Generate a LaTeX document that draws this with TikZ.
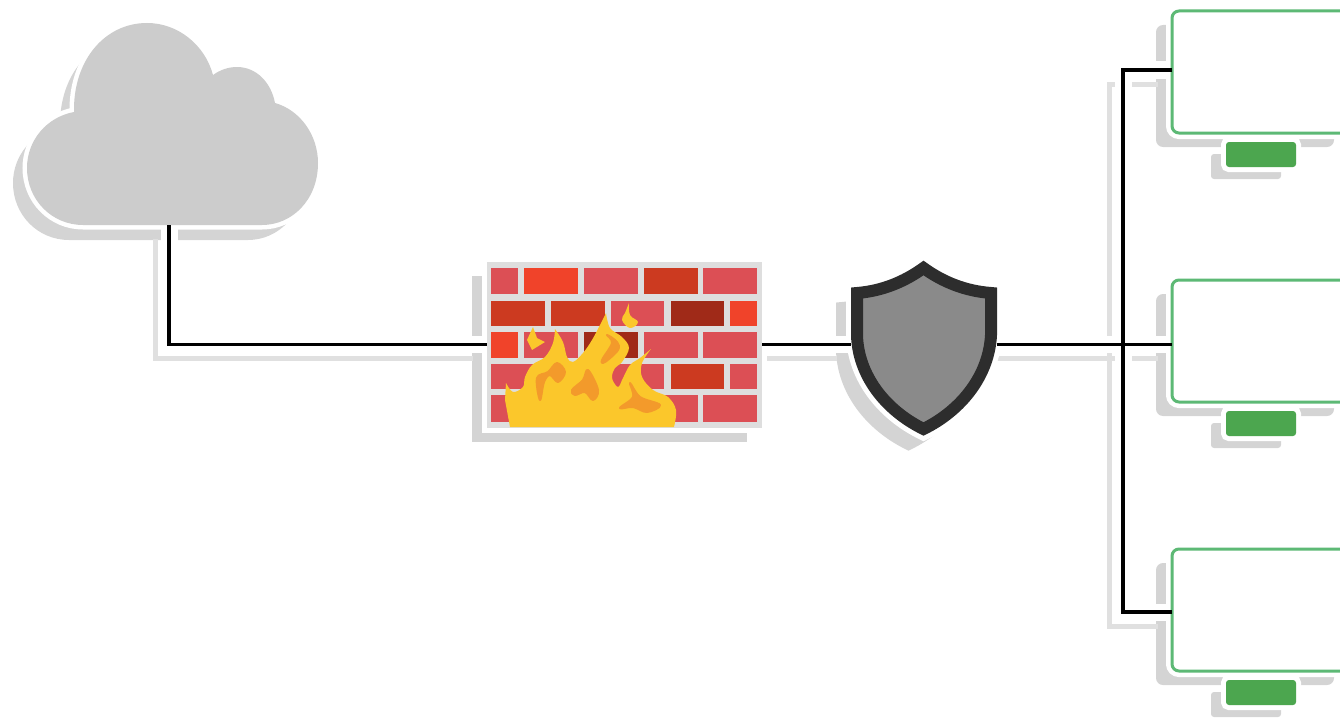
\documentclass[tikz,border=0pt]{standalone}
\usepackage{tikz}
\usetikzlibrary{backgrounds,calc,positioning}
\definecolor{CloudGray}{HTML}{CCCCCC}
\definecolor{Shade}{HTML}{D4D4D4}
\definecolor{LinkShade}{HTML}{E0E0E0}
\definecolor{WallGray}{HTML}{DEDEDE}
\definecolor{BrickLight}{HTML}{DC4F55}
\definecolor{BrickHot}{HTML}{F0432A}
\definecolor{BrickMid}{HTML}{CC3A20}
\definecolor{BrickDark}{HTML}{A02A18}
\definecolor{Flame}{HTML}{FBC72B}
\definecolor{FlameDeep}{HTML}{F39A2B}
\definecolor{ShieldFill}{HTML}{8A8A8A}
\definecolor{ShieldEdge}{HTML}{2D2D2D}
\definecolor{ScreenGreen}{HTML}{5DB975}
\definecolor{StandGreen}{HTML}{4CA64F}
\newcommand{\cloudpath}{(83,225) .. controls (52,225) and (27,200) .. (27,168)
  .. controls (27,140) and (47,117) .. (74,112)
  .. controls (73,60) and (105,23) .. (147,23)
  .. controls (178,23) and (205,45) .. (213,75)
  .. controls (220,70) and (228,67) .. (237,67)
  .. controls (256,67) and (271,82) .. (275,103)
  .. controls (300,110) and (318,135) .. (318,163)
  .. controls (318,200) and (292,225) .. (262,225) -- cycle}
\newcommand{\shieldpath}{(923.5,268) .. controls (904,282) and (882,291) .. (857,293)
  -- (857,335) .. controls (858,375) and (885,410) .. (923.5,429)
  .. controls (962,410) and (989,375) .. (991,335)
  -- (991,293) .. controls (965,291) and (943,282) .. (923.5,268) -- cycle}
\newcommand{\linkpaths}{(cloud.south) |- (wall.west)
  (wall.east) -- (shield.west)
  (shield.east) -- (shield.east -| pcB.west)
  (tapA -| pcA.west) -- (tapA) -- (tapC) -- (tapC -| pcC.west)}
\tikzset{
  place/.style={inner sep=0pt,outer sep=0pt},
  monitor/.style={place,draw=ScreenGreen,fill=white,line width=3pt,rounded corners=7pt,
    minimum width=178pt,minimum height=122pt,preaction={draw=white,line width=12pt}},
  stand/.style={place,fill=StandGreen,rounded corners=3pt,minimum width=70pt,minimum height=25pt,
    preaction={draw=white,line width=10pt}},
  firewall/.style={place,fill=WallGray,minimum width=275pt,minimum height=166pt,
    preaction={draw=white,line width=10pt}},
  link/.style={black,line width=3.6pt},
  linkhalo/.style={white,line width=17pt},
  linkshade/.style={LinkShade,line width=5pt,transform canvas={xshift=-14pt,yshift=-14pt}},
  patch/.style={FlameDeep,draw=FlameDeep,line width=2pt,line join=round}
}

\begin{document}
\begin{tikzpicture}[x=1pt,y=-1pt]
        \useasboundingbox (0,0) rectangle (1340,717);

        \node[place,minimum width=282pt,minimum height=114pt] (cloud) at (169,168) {};
        \node[firewall] (wall) at (624.5,344.5) {};
        \node[place,minimum width=146pt,minimum height=174pt] (shield) at (924,344.5) {};
        \node[monitor] (pcA) at (1261,72) {};
        \node[monitor] (pcB) at (1261,341) {};
        \node[monitor] (pcC) at (1261,610) {};
        \node[stand,below=9pt of pcA] (standA) {};
        \node[stand,below=9pt of pcB] (standB) {};
        \node[stand,below=9pt of pcC] (standC) {};
        \coordinate (tapA) at (1123,70);
        \coordinate (tapC) at (1123,612);

        \begin{scope}[on background layer]
          \fill[Shade,shift={(-14,15)}] \cloudpath;
          \draw[Shade,fill=Shade,line width=12pt,shift={(-15,15)}] \shieldpath;
          \fill[Shade] ([shift={(-15,14)}]wall.north west) rectangle ([shift={(-15,14)}]wall.south east);
          \foreach \pc in {pcA,pcB,pcC}
            \fill[Shade,rounded corners=7pt] ([shift={(-16,14)}]\pc.north west) rectangle ([shift={(-16,14)}]\pc.south east);
          \foreach \stnd in {standA,standB,standC}
            \fill[Shade,rounded corners=3pt] ([shift={(-15,12)}]\stnd.north west) rectangle ([shift={(-15,12)}]\stnd.south east);
          \draw[linkshade] \linkpaths;
          \draw[linkhalo] \linkpaths;
        \end{scope}

        \fill[CloudGray,preaction={draw=white,line width=9pt}] \cloudpath;

        \foreach \xa/\xb/\col in {491/518/BrickLight,524/578/BrickHot,584/638/BrickLight,644/698/BrickMid,703/757/BrickLight}
          \fill[\col] (\xa,268) rectangle (\xb,294);
        \foreach \xa/\xb/\col in {491/545/BrickMid,551/605/BrickMid,611/664/BrickLight,671/724/BrickDark,730/757/BrickHot}
          \fill[\col] (\xa,301) rectangle (\xb,326);
        \foreach \xa/\xb/\col in {491/518/BrickHot,524/578/BrickLight,584/638/BrickDark,644/698/BrickLight,703/757/BrickLight}
          \fill[\col] (\xa,332) rectangle (\xb,358);
        \foreach \xa/\xb/\col in {491/545/BrickLight,551/605/BrickLight,611/664/BrickLight,671/724/BrickMid,730/757/BrickLight}
          \fill[\col] (\xa,364) rectangle (\xb,389);
        \foreach \xa/\xb/\col in {491/518/BrickLight,524/578/BrickLight,584/638/BrickLight,644/698/BrickLight,703/757/BrickLight}
          \fill[\col] (\xa,395) rectangle (\xb,422);

        \fill[Flame] (510,427) -- plot[smooth,tension=.6] coordinates {(505,400) (506,383)}
          -- plot[smooth,tension=.6] coordinates {(506,383) (513,392) (523,387) (525,377) (532,365) (545,357) (553,343) (555,329)}
          -- plot[smooth,tension=.6] coordinates {(555,329) (563,342) (567,357) (573,362) (583,353) (592,340) (600,325) (606,313)}
          -- plot[smooth,tension=.6] coordinates {(606,313) (610,328) (622,337) (629,348) (622,362) (615,368) (612,378) (618,387) (623,378) (630,365) (640,358) (651,349)}
          -- plot[smooth,tension=.6] coordinates {(651,349) (642,363) (642,377) (653,390) (668,397) (676,410) (674,427)} -- cycle;
        \fill[Flame] (533,327) -- (537,338) -- (545,342) -- (532,350) -- (527,340) -- cycle;
        \fill[Flame] plot[smooth,tension=.7] coordinates {(629,303) (625,313) (622,320) (630,328) (638,322) (630,315) (629,303)};
        \fill[patch] plot[smooth cycle,tension=.6] coordinates {(540,400) (537,378) (548,372) (557,363) (565,372) (558,382) (550,375) (544,382)};
        \fill[patch] plot[smooth cycle,tension=.6] coordinates {(572,390) (583,380) (588,370) (598,390) (593,400) (585,392) (575,395)};
        \fill[patch] plot[smooth cycle,tension=.6] coordinates {(602,360) (612,343) (607,335) (617,342) (618,350) (605,362)};
        \fill[patch] plot[smooth cycle,tension=.6] coordinates {(620,408) (633,397) (630,383) (640,397) (660,405) (647,412) (633,407)};

        \draw[ShieldEdge,fill=ShieldFill,line width=12pt,miter limit=10,preaction={draw=white,line width=22pt}] \shieldpath;

        \draw[link] \linkpaths;
      \end{tikzpicture}
\end{document}
